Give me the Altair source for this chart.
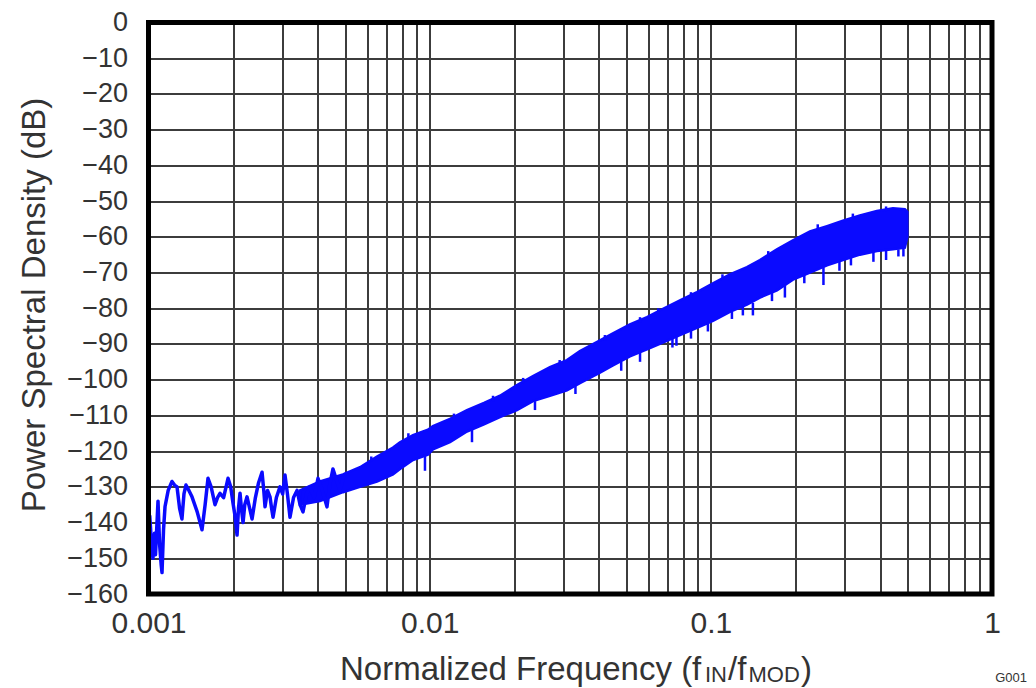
import altair as alt
import pandas as pd

# ---- data ----
# low-frequency part of the trace (single oscillating line)
low_f = [0.00101, 0.001025, 0.001037, 0.001050, 0.001059, 0.001081, 0.001095, 0.001110, 0.001117, 0.001131,
         0.001145, 0.001175, 0.001212, 0.001238, 0.001263, 0.001290, 0.001315, 0.001337, 0.001359, 0.001392,
         0.001428, 0.001490, 0.001550, 0.001590, 0.001628, 0.001670, 0.001724, 0.001760, 0.001796, 0.001850,
         0.001918, 0.001960, 0.001998, 0.002030, 0.002065, 0.002090, 0.002116, 0.002140, 0.002169, 0.002200,
         0.002241, 0.002290, 0.002335, 0.002400, 0.002460, 0.002534, 0.002570, 0.002597, 0.002650, 0.002705,
         0.002740, 0.002773, 0.002850, 0.002935, 0.003000, 0.003058, 0.003120, 0.003186, 0.003280, 0.003375,
         0.003460, 0.003544, 0.003650, 0.003752, 0.003880, 0.004007, 0.004150, 0.004313, 0.004420, 0.004530,
         0.004660, 0.004797, 0.004950, 0.005080]
low_db = [-138, -146, -150, -143, -149, -134, -146, -152, -154, -142,
          -135.5, -131, -128.5, -129.5, -130, -136, -139, -132, -129.5, -131,
          -132.8, -137, -142, -135, -127.6, -130, -135, -133, -131.8, -133,
          -127.6, -130, -134.6, -138, -143.5, -136, -131.8, -136, -140, -135,
          -132.8, -136, -139, -133, -129, -125.9, -131, -135.6, -131, -132.8,
          -136, -138.5, -133, -130, -132, -126.7, -132, -138.5, -133, -131,
          -135, -137, -132, -130, -133, -127.6, -131, -135.6, -129, -125,
          -128, -131, -127, -126]

# dense noisy band (upper / lower envelope)
band_f = [0.003458, 0.004073, 0.004916, 0.005651, 0.006495, 0.007406, 0.007843, 0.008723, 0.009860,
          0.010273, 0.011810, 0.013574, 0.015604, 0.017783, 0.020441, 0.023305, 0.026776, 0.030781, 0.034230,
          0.040337, 0.044864, 0.051560, 0.059270, 0.068130, 0.077660, 0.089260, 0.10174, 0.11693, 0.13443,
          0.14948, 0.17184, 0.19591, 0.22520, 0.25890, 0.29497, 0.33903, 0.38965, 0.44423, 0.49000, 0.50000]
band_upper = [-131, -128.5, -126.5, -124.5, -121.5, -119, -117.5, -115.5, -114,
              -113, -111, -108.5, -106.5, -104.5, -101.5, -99, -96.5, -94.5, -92,
              -89, -87, -84.5, -82.5, -80, -77.8, -75.5, -73, -70.5, -68.5,
              -66.5, -63.5, -61, -58.5, -57, -55.5, -54, -52.8, -52, -52.3, -53]
band_lower = [-135, -134, -131.5, -130, -128.5, -126.5, -125, -122.5, -121,
              -119.5, -117.5, -114.5, -112.5, -110.5, -108.5, -106, -104.5, -103, -101,
              -98, -96, -93.5, -91.5, -89.5, -87.5, -85.5, -83.5, -81, -79,
              -77, -75, -72, -70, -68, -66.5, -65, -64, -63.5, -63, -60]

# downward spikes below the band
spike_f = [0.009623, 0.014143, 0.023690, 0.03300, 0.04800, 0.05600, 0.07302, 0.07546, 0.08500, 0.09763,
           0.11885, 0.13000, 0.14114, 0.16500, 0.18343, 0.21500, 0.25150, 0.28670, 0.31500, 0.37866,
           0.42000, 0.46460, 0.48410]
spike_top = [-121, -114, -106, -101.5, -95, -92.5, -88, -88, -86, -84,
             -81, -79.5, -78.5, -75.5, -73.5, -70.5, -68.5, -67, -65.5, -64,
             -63.8, -63.5, -63.2]
spike_bottom = [-125.5, -117.5, -108.5, -104, -97.5, -95, -91, -90.5, -88.5, -86.5,
                -83, -82, -82, -78, -77, -73, -73.5, -69.5, -68, -67,
                -66.5, -65.5, -65.5]

# small upward bumps on the top edge of the band
bump_f = [0.0062, 0.0084, 0.0122, 0.0168, 0.0215, 0.0290, 0.0420, 0.0560, 0.0650, 0.0850,
          0.1100, 0.1600, 0.2400, 0.3200, 0.4200]
bump_base = [-123, -116.5, -111, -106, -101, -96, -89, -84, -81.5, -77,
             -72, -65.5, -58, -55, -52.8]
bump_top = [-121.5, -115, -109.5, -104.5, -99.5, -94.5, -87.5, -82.5, -80, -75.5,
            -70.5, -64, -56.5, -53.5, -51.5]

x_grid_values = [0.001, 0.002, 0.003, 0.004, 0.005, 0.006, 0.007, 0.008, 0.009,
                 0.01, 0.02, 0.03, 0.04, 0.05, 0.06, 0.07, 0.08, 0.09,
                 0.1, 0.2, 0.3, 0.4, 0.5, 0.6, 0.7, 0.8, 0.9, 1]
x_label_values = ['0.001', '0.01', '0.1', '1']
y_values = [-160, -150, -140, -130, -120, -110, -100, -90, -80, -70, -60, -50,
            -40, -30, -20, -10, 0]

assert len(low_f) == len(low_db)
assert len(band_f) == len(band_upper) == len(band_lower)
assert len(spike_f) == len(spike_top) == len(spike_bottom)
assert len(bump_f) == len(bump_base) == len(bump_top)

low_df = pd.DataFrame({'f': low_f, 'db': low_db})
band_df = pd.DataFrame({'f': band_f, 'db': band_upper, 'db2': band_lower})
spike_df = pd.DataFrame({'f': spike_f + bump_f, 'db': spike_top + bump_base,
                         'db2': spike_bottom + bump_top})
one = pd.DataFrame({'a': [0]})

BLUE = '#0a0aff'
TXT = '#333333'
GRID = '#3c3c3c'
W, H = 843.5, 571.5

label_list = ",".join("'" + s + "'" for s in x_label_values)

x_scale = alt.Scale(type='log', domain=[0.001, 1], nice=False)
y_scale = alt.Scale(domain=[-160, 0], nice=False, zero=False)

x_axis = alt.Axis(values=x_grid_values, format='~g',
                  labelExpr=f"indexof([{label_list}], datum.label) >= 0 ? datum.label : ''",
                  ticks=False, domain=False, grid=True, gridColor=GRID, gridWidth=2,
                  labelFontSize=30, labelColor=TXT, labelPadding=14, labelFlush=False,
                  labelOverlap=False, title=None)
y_axis = alt.Axis(values=y_values, ticks=False, domain=False, grid=True, gridColor=GRID,
                  gridWidth=2, labelFontSize=27, labelColor=TXT, labelPadding=21,
                  labelOverlap=False, title='Power Spectral Density (dB)', titleFontSize=33,
                  titleFontWeight='normal', titleColor=TXT, titleX=-97, titleY=282)

X = alt.X('f:Q', scale=x_scale, axis=x_axis)
Y = alt.Y('db:Q', scale=y_scale, axis=y_axis)

band = alt.Chart(band_df).mark_area(color=BLUE, stroke=BLUE, strokeWidth=2.5, opacity=1).encode(
    x=X, y=Y, y2='db2:Q')
spikes = alt.Chart(spike_df).mark_rule(color=BLUE, strokeWidth=2.5).encode(x=X, y=Y, y2='db2:Q')
line = alt.Chart(low_df).mark_line(color=BLUE, strokeWidth=3.5, strokeJoin='round').encode(x=X, y=Y)

border = alt.Chart(one).mark_rect(fillOpacity=0, stroke='black', strokeWidth=5).encode(
    x=alt.value(0), x2=alt.value(W), y=alt.value(0), y2=alt.value(H))


def txt(s, x, y, size, align='left'):
    return alt.Chart(one).mark_text(text=s, align=align, baseline='alphabetic', fontSize=size,
                                    color=TXT, font='Liberation Sans').encode(
        x=alt.value(x), y=alt.value(y))


title_parts = [
    txt('Normalized Frequency (f', 191.5, 657, 33),
    txt('IN', 556.5, 659.5, 22),
    txt('/f', 579.5, 657, 33),
    txt('MOD', 600, 659.5, 22),
    txt(')', 652.5, 657, 33),
    txt('G001', 878.5, 659.5, 13, align='right'),
]

chart = alt.layer(band, spikes, line, border, *title_parts).properties(
    width=W, height=H,
    autosize=alt.AutoSizeParams(type='none'),
    padding={'left': 140.5, 'top': 14.5, 'right': 36, 'bottom': 94},
    background='white',
).configure(font='Liberation Sans').configure_view(stroke='transparent')

chart.save('out.html', embed_options={'renderer': 'svg', 'actions': False})
